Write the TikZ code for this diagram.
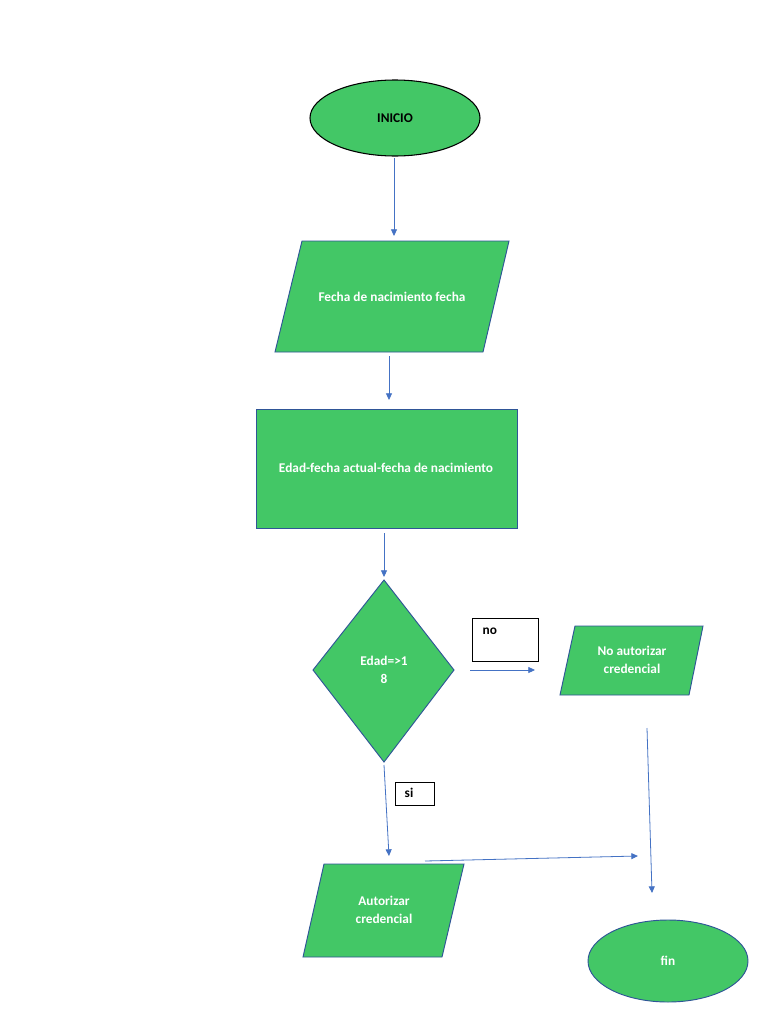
\documentclass[tikz,border=0pt]{standalone}
\usepackage{fontspec}
\setmainfont{Carlito}
\usetikzlibrary{arrows.meta,shapes.geometric}
\definecolor{boxgreen}{HTML}{43C766}
\definecolor{edgeblue}{HTML}{2F5597}
\definecolor{arrowblue}{HTML}{4472C4}
\tikzset{
  flowarrow/.style={draw=arrowblue, line width=0.6pt, -{Triangle[length=5pt,width=4.5pt]}},
  shapefill/.style={fill=boxgreen, draw=edgeblue, line width=0.7pt},
  whitetext/.style={text=white, font=\bfseries\fontsize{10}{14}\selectfont, align=center},
  labelbox/.style={draw=black, fill=white, line width=0.6pt},
  labeltext/.style={font=\bfseries\fontsize{10}{12}\selectfont, anchor=west}
}
\begin{document}
\begin{tikzpicture}[x=0.75pt,y=-0.75pt]
\useasboundingbox[fill=white] (0,0) rectangle (768,1024);
% INICIO
\draw[fill=boxgreen, draw=black, line width=0.8pt] (395,118) ellipse [x radius=85, y radius=38];
\node[font=\bfseries\fontsize{10}{12}\selectfont] (inicio) at (395,118) {INICIO};
% input parallelogram
\draw[shapefill] (302,241) -- (509,241) -- (483,352) -- (275,352) -- cycle;
\node[whitetext] (fecha) at (392,297) {Fecha de nacimiento fecha};
% process rectangle
\draw[shapefill] (256,409) rectangle (517,528);
\node[whitetext] (edad) at (386,468) {Edad-fecha actual-fecha de nacimiento};
% decision diamond
\draw[shapefill] (384,580) -- (454,670) -- (384,762) -- (313,670) -- cycle;
\node[whitetext] (dec) at (384,670) {Edad=>1\\8};
% no box
\draw[labelbox] (472,618) rectangle (538,661);
\node[labeltext] (no) at (478,631) {no};
% No autorizar
\draw[shapefill] (575,626) -- (703,626) -- (689,695) -- (560,695) -- cycle;
\node[whitetext] (noaut) at (632,660) {No autorizar\\credencial};
% si box
\draw[labelbox] (395,782) rectangle (434,805);
\node[labeltext] (si) at (400,793) {si};
% Autorizar
\draw[shapefill] (324,864) -- (464,864) -- (442,957) -- (303,957) -- cycle;
\node[whitetext] (aut) at (384,910) {Autorizar\\credencial};
% fin
\draw[shapefill] (668,961) ellipse [x radius=80, y radius=41];
\node[whitetext] (fin) at (668,961) {fin};
% connector end points
\coordinate (a1) at (394,158); \coordinate (a2) at (394,236);
\coordinate (b1) at (389,356); \coordinate (b2) at (389,400);
\coordinate (c1) at (384,533); \coordinate (c2) at (384,577);
\coordinate (d1) at (384,765); \coordinate (d2) at (389,856);
\coordinate (e1) at (470,670); \coordinate (e2) at (535,670);
\coordinate (f1) at (425,861); \coordinate (f2) at (638,856);
\coordinate (g1) at (647,728); \coordinate (g2) at (652,893);
\draw[flowarrow] (a1) -- (a2);
\draw[flowarrow] (b1) -- (b2);
\draw[flowarrow] (c1) -- (c2);
\draw[flowarrow] (d1) -- (d2);
\draw[flowarrow] (e1) -- (e2);
\draw[flowarrow] (f1) -- (f2);
\draw[flowarrow] (g1) -- (g2);
\end{tikzpicture}
\end{document}
